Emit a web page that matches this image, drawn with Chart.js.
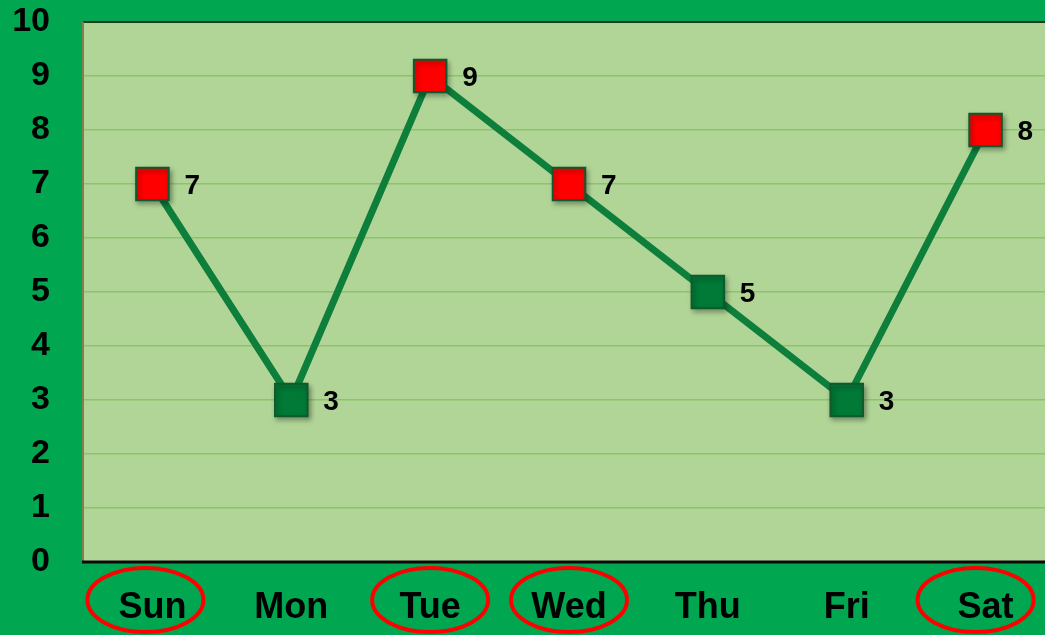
<!DOCTYPE html>
<html><head><meta charset="utf-8">
<script src="https://cdn.jsdelivr.net/npm/chart.js@4"></script>
<style>
html,body{margin:0;padding:0;background:#00A650;overflow:hidden;}
#wrap{position:relative;width:1055px;height:635px;}
</style></head>
<body><div id="wrap"><canvas id="c" width="1055" height="635"></canvas></div>
<script>
const categories = ['Sun','Mon','Tue','Wed','Thu','Fri','Sat'];
const values = [7,3,9,7,5,3,8];
const circled = [true,false,true,true,false,false,true];
const yTicks = [0,1,2,3,4,5,6,7,8,9,10];

const RED = '#FF0000', DGREEN = '#007A36', LINE = '#0D7F3B', EDGE = '#0E5A2C';

const decor = {
  id: 'decor',
  beforeDraw(chart) {
    const {ctx, chartArea: a} = chart;
    ctx.save();
    ctx.fillStyle = '#00A650';
    ctx.fillRect(0, 0, chart.width, chart.height);
    ctx.fillStyle = '#B1D597';
    ctx.fillRect(a.left, a.top, a.right - a.left, a.bottom - a.top);
    ctx.restore();
  },
  beforeDatasetDraw(chart, args) {
    if (args.index === 1) {
      const ctx = chart.ctx;
      ctx.save();
      ctx.shadowColor = 'rgba(0,0,0,0.35)';
      ctx.shadowBlur = 5;
      ctx.shadowOffsetX = 2;
      ctx.shadowOffsetY = 3;
    }
  },
  afterDatasetDraw(chart, args) {
    if (args.index === 1) chart.ctx.restore();
  },
  afterDatasetsDraw(chart) {
    const {ctx, chartArea: a, scales} = chart;
    ctx.save();
    ctx.strokeStyle = '#1B3A1F'; ctx.lineWidth = 2;
    ctx.beginPath(); ctx.moveTo(a.left, a.top); ctx.lineTo(a.right, a.top); ctx.stroke();
    ctx.strokeStyle = '#7F7F50'; ctx.lineWidth = 2;
    ctx.beginPath(); ctx.moveTo(a.left, a.top); ctx.lineTo(a.left, a.bottom); ctx.stroke();
    ctx.strokeStyle = '#0A0A0A'; ctx.lineWidth = 3;
    ctx.beginPath(); ctx.moveTo(a.left - 1, a.bottom); ctx.lineTo(a.right, a.bottom); ctx.stroke();
    const meta = chart.getDatasetMeta(1);
    ctx.fillStyle = '#000';
    ctx.font = 'bold 28px "Liberation Sans", Arial, sans-serif';
    ctx.textBaseline = 'middle'; ctx.textAlign = 'left';
    meta.data.forEach((p, i) => {
      ctx.fillText(String(values[i]), p.x + 32, p.y + 2);
    });
    const shift = {0: -7, 6: -10};
    ctx.strokeStyle = '#FF0000'; ctx.lineWidth = 4;
    categories.forEach((c, i) => {
      if (!circled[i]) return;
      const x = scales.x.getPixelForValue(i) + (shift[i] || 0);
      ctx.beginPath();
      ctx.ellipse(x, 600, 58, 32, 0, 0, Math.PI * 2);
      ctx.stroke();
    });
    ctx.restore();
  }
};

new Chart(document.getElementById('c'), {
  type: 'line',
  data: {
    labels: categories,
    datasets: [{
      data: values,
      order: 2,
      borderColor: LINE,
      borderWidth: 7,
      pointRadius: 0,
      tension: 0,
      clip: false
    }, {
      data: values,
      order: 1,
      showLine: false,
      pointStyle: 'rect',
      pointRadius: 23,
      pointHoverRadius: 23,
      pointBackgroundColor: circled.map(h => h ? RED : DGREEN),
      pointBorderColor: EDGE,
      pointBorderWidth: 2,
      clip: false
    }]
  },
  options: {
    responsive: false,
    animation: false,
    events: [],
    layout: {autoPadding: false, padding: {top: 22, right: 0, left: 0, bottom: 0}},
    plugins: {legend: {display: false}, tooltip: {enabled: false}},
    scales: {
      x: {
        offset: true,
        grid: {display: false, drawTicks: false},
        border: {display: false},
        ticks: {color: '#000', font: {family: '"Liberation Sans", Arial, sans-serif', size: 36, weight: 'bold'}, padding: 24, maxRotation: 0, autoSkip: false},
        afterFit(s) { s.height = 73; s.paddingLeft = 0; s.paddingRight = 0; }
      },
      y: {
        min: 0, max: 10,
        afterBuildTicks(s) { s.ticks = yTicks.map(v => ({value: v})); },
        grid: {color: '#8CC46C', lineWidth: 1.5, drawTicks: false},
        border: {display: false},
        ticks: {color: '#000', font: {family: '"Liberation Sans", Arial, sans-serif', size: 34, weight: 'bold'}, padding: 33},
        afterFit(s) { s.width = 83; s.paddingTop = 0; s.paddingBottom = 0; }
      }
    }
  },
  plugins: [decor]
});
</script></body></html>
